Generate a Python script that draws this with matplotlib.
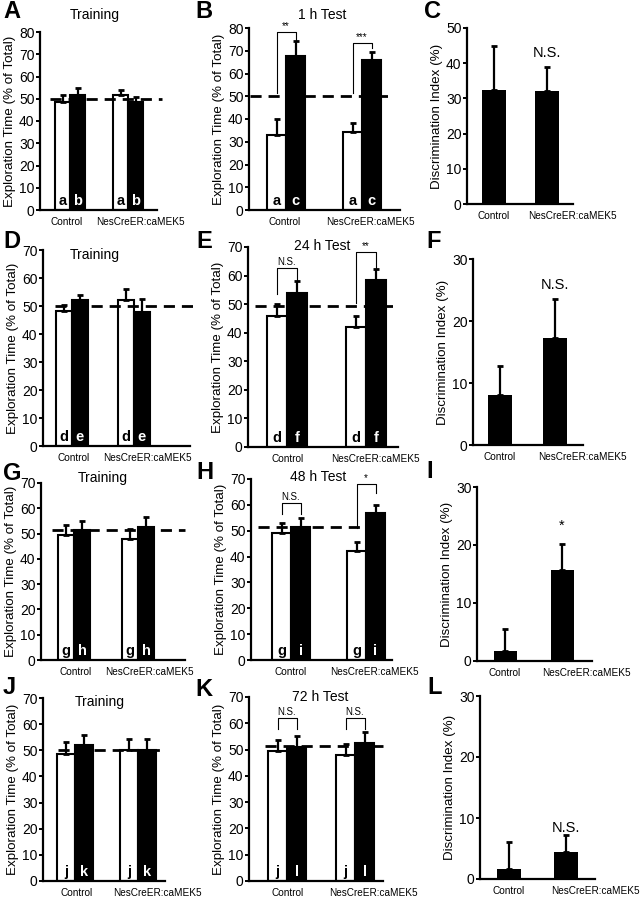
import numpy as np
import matplotlib
matplotlib.use('Agg')
import matplotlib.pyplot as plt

plt.rcParams['font.family'] = ['Liberation Sans', 'DejaVu Sans']

W, H = 642, 899

groups = ['Control', 'NesCreER:caMEK5']

# exploration time (% of total): white = familiar object, black = novel/moved object
a_white = [48.5, 51.5]; a_white_err = [3.0, 2.5]
a_black = [51.5, 48.5]; a_black_err = [3.5, 2.5]
b_white = [33.0, 34.5]; b_white_err = [7.0, 3.8]
b_black = [67.5, 66.0]; b_black_err = [7.0, 3.5]
d_white = [48.2, 52.0]; d_white_err = [2.0, 4.0]
d_black = [52.0, 48.0]; d_black_err = [2.0, 4.5]
e_white = [46.0, 42.0]; e_white_err = [4.0, 3.8]
e_black = [54.0, 58.5]; e_black_err = [4.0, 3.7]
g_white = [49.5, 48.0]; g_white_err = [4.0, 4.0]
g_black = [51.5, 52.5]; g_black_err = [3.5, 4.0]
h_white = [49.0, 42.0]; h_white_err = [4.0, 3.5]
h_black = [51.5, 57.0]; h_black_err = [3.5, 3.0]
j_white = [48.5, 50.0]; j_white_err = [4.5, 4.5]
j_black = [52.0, 50.0]; j_black_err = [4.0, 4.5]
k_white = [49.5, 48.0]; k_white_err = [4.0, 4.0]
k_black = [51.0, 52.5]; k_black_err = [4.0, 4.0]

# discrimination index (%)
c_di = [32.3, 32.0]; c_di_err = [12.5, 7.0]
f_di = [8.0, 17.3]; f_di_err = [4.8, 6.2]
i_di = [1.8, 15.7]; i_di_err = [3.8, 4.5]
l_di = [1.6, 4.5]; l_di_err = [4.4, 2.7]

fig = plt.figure(figsize=(W / 100, H / 100), dpi=100)


def px_axes(left, right, top, bottom):
    return fig.add_axes([left / W, 1 - bottom / H, (right - left) / W, (bottom - top) / H])


def style(ax, ymax, step, ylabel, lab_pos):
    for s in ['top', 'right']:
        ax.spines[s].set_visible(False)
    for s in ['left', 'bottom']:
        ax.spines[s].set_linewidth(1.6)
    ax.set_ylim(0, ymax)
    ax.set_yticks(np.arange(0, ymax + 1, step))
    ax.set_xticks(lab_pos)
    ax.set_xticklabels(groups)
    ax.tick_params(axis='y', length=3, width=1.4, labelsize=10, pad=1)
    ax.tick_params(axis='x', length=0, labelsize=7.2, pad=5)
    ax.set_ylabel(ylabel, fontsize=9.6, labelpad=2)


def fig_text(x, y, s, **kw):
    fig.text(x / W, 1 - y / H, s, **kw)


def pair_panel(box, centers, bw, white, werr, black, berr, letters, dash, dash_px,
               label_px, ymax=70, brackets=None):
    left, right, top, bottom = box
    ax = px_axes(left, right, top, bottom)
    c0, c1 = centers
    unit = c1 - c0
    ax.set_xlim((left - c0) / unit, (right - c0) / unit)
    w = bw / unit
    x = np.arange(len(groups))
    ax.bar(x - w / 2, white, w, color='white', edgecolor='black', linewidth=1.5, zorder=2)
    ax.bar(x + w / 2, black, w, color='black', edgecolor='black', linewidth=1.5, zorder=2)
    ax.errorbar(x - w / 2, white, yerr=[[0] * 2, werr], fmt='none', ecolor='black',
                elinewidth=1.6, capsize=2.5, capthick=2, zorder=3)
    ax.errorbar(x + w / 2, black, yerr=[[0] * 2, berr], fmt='none', ecolor='black',
                elinewidth=1.6, capsize=2.5, capthick=2, zorder=3)
    ax.plot([(dash_px[0] - c0) / unit, (dash_px[1] - c0) / unit], [dash, dash],
            color='black', lw=2, dashes=(4, 2.5), clip_on=False, zorder=4)
    for i in x:
        ax.text(i - w / 2, ymax * 0.012, letters[0], ha='center', va='bottom',
                fontsize=10.5, fontweight='bold', color='black', zorder=5)
        ax.text(i + w / 2, ymax * 0.012, letters[1], ha='center', va='bottom',
                fontsize=10.5, fontweight='bold', color='white', zorder=5)
    if brackets:
        for i, (top_y, ly, ry, lab) in enumerate(brackets):
            ax.plot([i - w / 2, i - w / 2, i + w / 2, i + w / 2], [ly, top_y, top_y, ry],
                    color='black', lw=0.8, clip_on=False)
            ax.text(i, top_y + ymax * 0.005, lab, ha='center', va='bottom', fontsize=7,
                    clip_on=False)
    style(ax, ymax, 10, 'Exploration Time (% of Total)',
          [(p - c0) / unit for p in label_px])
    return ax


def di_panel(box, centers, bw, vals, errs, ymax, mark, mark_y, label_px, mark_size=10.5):
    left, right, top, bottom = box
    ax = px_axes(left, right, top, bottom)
    c0, c1 = centers
    unit = c1 - c0
    ax.set_xlim((left - c0) / unit, (right - c0) / unit)
    w = bw / unit
    x = np.arange(len(groups))
    ax.bar(x, vals, w, color='black', zorder=2)
    ax.errorbar(x, vals, yerr=[[0] * 2, errs], fmt='none', ecolor='black',
                elinewidth=1.6, capsize=2.5, capthick=2, zorder=3)
    ax.text(1, mark_y, mark, ha='center', va='center', fontsize=mark_size)
    style(ax, ymax, 10, 'Discrimination Index (%)',
          [(p - c0) / unit for p in label_px])
    return ax


# row 1
pair_panel((40, 157, 32, 210), (70, 128), 15, a_white, a_white_err, a_black, a_black_err,
           'ab', 50, (50, 162), (67, 140), ymax=80)
pair_panel((249, 400, 28, 210), (286, 362), 19, b_white, b_white_err, b_black, b_black_err,
           'ac', 50, (250, 392), (285, 370), ymax=80,
           brackets=[(78.4, 51.4, 74.7, '**'), (73.5, 51.4, 71, '***')])
di_panel((467, 573, 28, 204), (494, 547), 24, c_di, c_di_err, 50, 'N.S.', 43, (494, 572))

# row 2
pair_panel((43, 190, 250, 446), (72, 134), 16, d_white, d_white_err, d_black, d_black_err,
           'de', 50, (55, 193), (74, 147))
pair_panel((248, 398, 247, 447), (287, 366), 20, e_white, e_white_err, e_black, e_black_err,
           'df', 49.5, (255, 393), (288, 375),
           brackets=[(62.7, 53.5, 58.5, 'N.S.'), (68.3, 50.3, 62.5, '**')])
di_panel((473, 583, 259, 445), (500, 555), 24, f_di, f_di_err, 30, 'N.S.', 25.8, (500, 582))

# row 3
pair_panel((41, 185, 483, 660), (74, 138), 16, g_white, g_white_err, g_black, g_black_err,
           'gh', 51.5, (52, 185), (76, 149))
pair_panel((251, 392, 479, 660), (291, 366), 19, h_white, h_white_err, h_black, h_black_err,
           'gi', 51.5, (258, 383), (291, 374),
           brackets=[(60.8, 56.5, 56.5, 'N.S.'), (68, 51, 64.5, '*')])
di_panel((477, 592, 487, 661), (505, 562), 23, i_di, i_di_err, 30, '*', 23.3, (505, 586))

# row 4
pair_panel((43, 165, 698, 881), (75, 138), 18, j_white, j_white_err, j_black, j_black_err,
           'jk', 50, (58, 163), (77, 157))
pair_panel((249, 383, 697, 881), (287, 355), 19, k_white, k_white_err, k_black, k_black_err,
           'jl', 51.5, (265, 383), (288, 373),
           brackets=[(62, 58, 58, 'N.S.'), (62, 58, 58, 'N.S.')])
di_panel((480, 595, 696, 879), (510, 570), 25, l_di, l_di_err, 30, 'N.S.', 8.4, (510, 600))

# panel titles
titles = [(95, 15, 'Training'), (322, 15, '1 h Test'), (95, 255, 'Training'),
          (322, 246, '24 h Test'), (103, 478, 'Training'), (318, 477, '48 h Test'),
          (100, 702, 'Training'), (320, 697, '72 h Test')]
for tx, ty, s in titles:
    fig_text(tx, ty, s, ha='center', va='center', fontsize=10)

# panel letters
letters = [(3, 11, 'A'), (195, 11, 'B'), (424, 11, 'C'), (3, 242, 'D'), (196, 242, 'E'),
           (426, 241, 'F'), (3, 473, 'G'), (196, 472, 'H'), (426, 471, 'I'),
           (3, 688, 'J'), (195, 689, 'K'), (427, 688, 'L')]
for lx, ly, s in letters:
    fig_text(lx, ly, s, ha='left', va='center', fontsize=17, fontweight='bold')

fig.savefig('out.png', dpi=100)
